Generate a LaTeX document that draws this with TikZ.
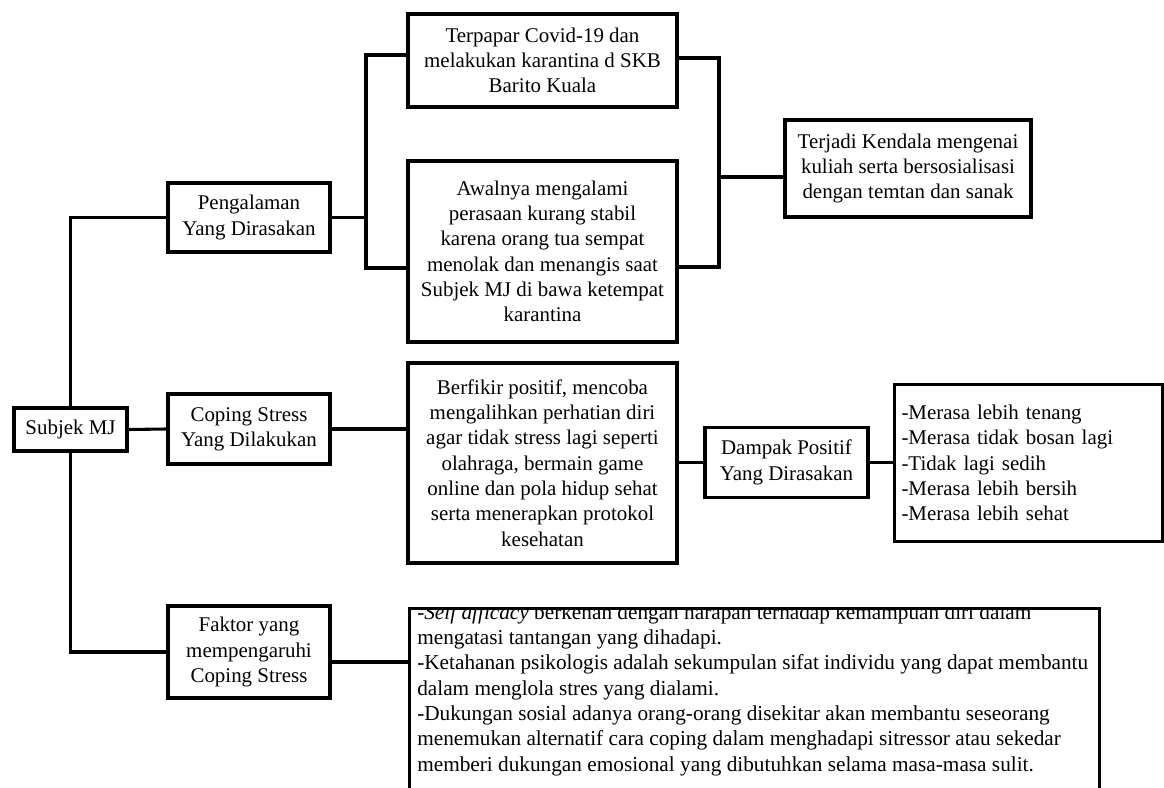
\documentclass[tikz,border=0pt]{standalone}
\usepackage{fontspec}
\setmainfont{Liberation Serif}
\begin{document}
\begin{tikzpicture}[x=0.75pt,y=-0.75pt,
  every node/.style={font=\fontsize{15.7pt}{19pt}\selectfont, inner sep=0pt},
  box/.style={draw, line width=2.3pt, rectangle, align=center},
  conn/.style={line width=2.3pt}]
\useasboundingbox (0,0) rectangle (1164,788);

\node[box, minimum width=84.75pt, minimum height=32.25pt] (subj) at (70.5,429.5) {Subjek MJ};
\node[box, minimum width=121.5pt, minimum height=51.75pt] (peng) at (249,217.5) {Pengalaman\\Yang Dirasakan};
\node[box, minimum width=121.5pt, minimum height=52.5pt] (coping) at (249,429) {Coping Stress\\Yang Dilakukan};
\node[box, minimum width=121.5pt, minimum height=69pt] (faktor) at (249,652) {Faktor yang\\mempengaruhi\\Coping Stress};

\node[box, minimum width=201.75pt, minimum height=69.75pt] (terpapar) at (542.5,60.5) {Terpapar Covid-19 dan\\melakukan karantina d SKB\\Barito Kuala};
\node[box, minimum width=201.75pt, minimum height=135.75pt] (awal) at (542.5,251.5) {Awalnya mengalami\\perasaan kurang stabil\\karena orang tua sempat\\menolak dan menangis saat\\Subjek MJ di bawa ketempat\\karantina};
\node[box, minimum width=184.5pt, minimum height=72.75pt] (terjadi) at (908,168.5) {Terjadi Kendala mengenai\\kuliah serta bersosialisasi\\dengan temtan dan sanak};

\node[box, minimum width=201.75pt, minimum height=150pt] (berfikir) at (542.5,463) {Berfikir positif, mencoba\\mengalihkan perhatian diri\\agar tidak stress lagi seperti\\olahraga, bermain game\\online dan pola hidup sehat\\serta menerapkan protokol\\kesehatan};
\node[box, minimum width=122.25pt, minimum height=52.5pt] (dampak) at (786.5,462.5) {Dampak Positif\\Yang Dirasakan};
\node[box, minimum width=201pt, minimum height=117.75pt, align=left, text width=190.5pt] (merasa) at (1028.5,463) {-Merasa lebih tenang\\-Merasa tidak bosan lagi\\-Tidak lagi sedih\\-Merasa lebih bersih\\-Merasa lebih sehat};

\begin{scope}
\clip (408,607) rectangle (1098,810);
\node[anchor=north west, align=left, font=\fontsize{15.95pt}{19pt}\selectfont] (ftext) at (417,604) {-\textit{Self afficacy} berkenan dengan harapan terhadap kemampuan diri dalam\\mengatasi tantangan yang dihadapi.\\-Ketahanan psikologis adalah sekumpulan sifat individu yang dapat membantu\\dalam menglola stres yang dialami.\\-Dukungan sosial adanya orang-orang disekitar akan membantu seseorang\\menemukan alternatif cara coping dalam menghadapi sitressor atau sekedar\\memberi dukungan emosional yang dibutuhkan selama masa-masa sulit.};
\end{scope}
\node[draw, line width=2.3pt, minimum width=517.5pt, minimum height=152.25pt, anchor=north west] (faktorbox) at (408,607) {};

% connectors
\coordinate (bl1) at (366,55);
\coordinate (bl2) at (366,268);
\coordinate (br1) at (719,58);
\coordinate (br2) at (719,267);
\coordinate (br3) at (719,177);
\coordinate (fy) at (370,662);

\draw[conn] (subj.north) |- (peng.west);
\draw[conn] (subj.south) |- (faktor.west);
\draw[conn] (subj.east) -- (coping.west);
\draw[conn] (peng.east) -- (peng.east -| bl1);
\draw[conn] (terpapar.west |- bl1) -- (bl1) -- (bl2) -- (awal.west |- bl2);
\draw[conn] (terpapar.east |- br1) -- (br1) -- (br2) -- (awal.east |- br2);
\draw[conn] (br3) -- (terjadi.west |- br3);
\draw[conn] (coping.east) -- (berfikir.west |- coping.east);
\draw[conn] (berfikir.east |- dampak.west) -- (dampak.west);
\draw[conn] (dampak.east) -- (merasa.west |- dampak.east);
\draw[conn] (faktor.east |- fy) -- (faktorbox.west |- fy);
\end{tikzpicture}
\end{document}
